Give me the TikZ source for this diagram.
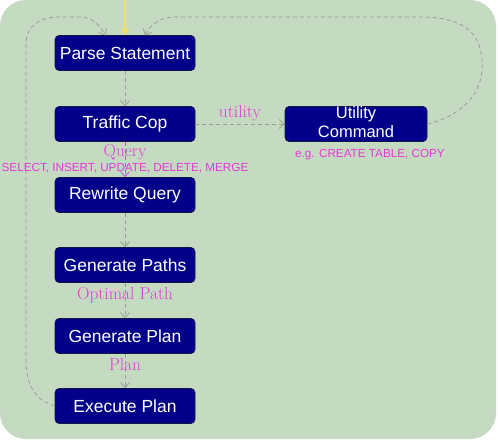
\documentclass[tikz,border=0pt]{standalone}
\usepackage{fontspec}
\newfontfamily\boxfont{Liberation Sans}
\usetikzlibrary{arrows.meta,calc}
\definecolor{bggreen}{RGB}{196,218,193}
\definecolor{boxblue}{RGB}{2,0,136}
\definecolor{boxedge}{RGB}{20,20,70}
\definecolor{dashgray}{RGB}{150,160,150}
\definecolor{lblmag}{RGB}{228,58,218}
\definecolor{ylw}{RGB}{240,222,110}
\tikzset{
  stepbox/.style={rectangle, rounded corners=4pt, fill=boxblue, draw=boxedge, line width=0.6pt,
    minimum width=140pt, minimum height=35pt, inner sep=0pt, text=white,
    font=\boxfont\fontsize{17.5}{18}\selectfont},
  flow/.style={dashgray, dashed, dash pattern=on 4pt off 3pt, line width=0.8pt,
    -{Straight Barb[length=5pt,width=9pt]}},
  magflow/.style={flow, draw=lblmag!80!dashgray},
  serlbl/.style={text=lblmag, font=\fontsize{17.3}{18}\selectfont, inner sep=0pt},
  sanlbl/.style={text=lblmag, font=\boxfont\fontsize{11.7}{12}\selectfont, inner sep=0pt},
}
\begin{document}
\begin{tikzpicture}[x=1pt,y=-1pt]
\useasboundingbox (0,0) rectangle (498,441);
\fill[white] (0,0) rectangle (498,441);
\fill[bggreen, rounded corners=26pt] (0,0) rectangle (496,439);

\node[stepbox] (parse) at (125,53) {Parse Statement};
\node[stepbox] (cop) at (125,124) {Traffic Cop};
\node[stepbox] (rewrite) at (125,195) {Rewrite Query};
\node[stepbox] (paths) at (125,265) {Generate Paths};
\node[stepbox] (plan) at (125,336) {Generate Plan};
\node[stepbox] (exec) at (125,406) {Execute Plan};
\node[stepbox, minimum width=142pt, font=\boxfont\fontsize{16.5}{18.5}\selectfont, align=center,
  text depth=4pt] (util) at (356,124) {Utility\\Command};

\coordinate (top) at (125,0);
\coordinate (inR) at (145,35.5);
\coordinate (inL) at (105,35.5);

\draw[ylw, line width=2pt, -{Triangle[length=6pt,width=8pt]}] (top) -- (parse.north);

\draw[flow] (parse) -- (cop);
\draw[magflow] (cop) -- (rewrite);
\draw[flow] (rewrite) -- (paths);
\draw[flow] (paths) -- (plan);
\draw[flow] (plan) -- (exec);
\draw[flow] (cop) -- (util);

\draw[flow] (util.east) .. controls (465,115) and (485,90) .. (482,60)
  .. controls (480,30) and (460,17) .. (420,17) -- (175,17)
  .. controls (160,17) and (150,25) .. (inR);
\draw[flow] (exec.west) .. controls (35,400) and (26,385) .. (26,360) -- (26,45)
  .. controls (26,25) and (40,17) .. (60,17) -- (80,17)
  .. controls (92,17) and (100,25) .. (inL);

\node[serlbl] (lq) at (125,152) {Query};
\node[sanlbl] (lsel) at (125,168.5) {SELECT, INSERT, UPDATE, DELETE, MERGE};
\node[serlbl] (lu) at (240,113) {utility};
\node[sanlbl] (leg) at (370,155) {e.g. CREATE TABLE, COPY};
\node[serlbl] (lop) at (125,295) {Optimal Path};
\node[serlbl] (lpl) at (125,365) {Plan};
\end{tikzpicture}
\end{document}
